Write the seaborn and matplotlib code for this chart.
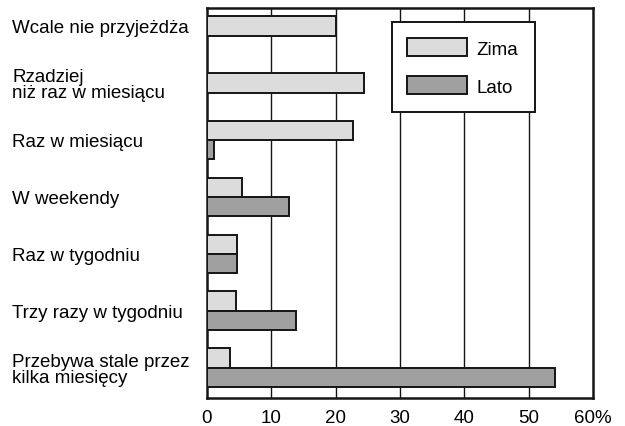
import pandas as pd
import seaborn as sns
import matplotlib.pyplot as plt

categories = [
    "Wcale nie przyjeżdża",
    "Rzadziej\nniż raz w miesiącu",
    "Raz w miesiącu",
    "W weekendy",
    "Raz w tygodniu",
    "Trzy razy w tygodniu",
    "Przebywa stale przez\nkilka miesięcy",
]
zima = [20.0, 24.4, 22.7, 5.5, 4.7, 4.5, 3.6]
lato = [0.0, 0.0, 1.1, 12.8, 4.7, 13.9, 54.1]
seasons = ["Zima", "Lato"]
x_ticks = [0, 10, 20, 30, 40, 50, 60]
x_labels = ["0", "10", "20", "30", "40", "50", "60%"]

df = pd.DataFrame({
    "kategoria": categories * 2,
    "sezon": ["Zima"] * len(categories) + ["Lato"] * len(categories),
    "procent": zima + lato,
})

sns.set_style("white")
plt.rcParams["font.family"] = ["Liberation Sans", "DejaVu Sans"]
plt.rcParams["text.color"] = "black"
plt.rcParams["xtick.color"] = "black"
plt.rcParams["ytick.color"] = "black"

fig = plt.figure(figsize=(6.25, 4.27), dpi=100)
ax = fig.add_axes([0.331, 0.066, 0.618, 0.913])

sns.barplot(data=df, y="kategoria", x="procent", hue="sezon", hue_order=seasons,
            orient="h", palette={"Zima": "#dcdcdc", "Lato": "#a0a0a0"},
            width=0.68, edgecolor="#151515", linewidth=1.4, errorbar=None,
            ax=ax, zorder=3)

# where there is no summer bar, the winter bar sits in the middle of the row
zima_bars, lato_bars = ax.containers[0], ax.containers[1]
for i, val in enumerate(lato):
    if val == 0:
        zb = zima_bars[i]
        zb.set_y(i - zb.get_height() / 2)
        lato_bars[i].set_visible(False)

ax.set_xlim(0, 60)
ax.set_ylim(6.526, -0.316)
ax.set_xticks(x_ticks)
ax.set_xticklabels(x_labels, fontsize=13.5)
ax.tick_params(axis="x", length=0, pad=8, labelcolor="black")
ax.set_yticks(range(len(categories)))
ax.set_yticklabels(categories, fontsize=13.5, ha="left", linespacing=0.9)
ax.tick_params(axis="y", length=0, pad=140, labelcolor="black")
ax.set_xlabel("")
ax.set_ylabel("")

for v in x_ticks[1:-1]:
    ax.axvline(v, color="#151515", linewidth=1.0, zorder=1)

for s in ax.spines.values():
    s.set_visible(True)
    s.set_color("#151515")
    s.set_linewidth(1.8)

leg = ax.legend(loc="upper left", bbox_to_anchor=(0.478, 0.963), fontsize=13.5,
                frameon=True, fancybox=False, edgecolor="#151515",
                handlelength=3.2, handleheight=1.1, labelspacing=1.0,
                borderpad=0.85, handletextpad=0.5, borderaxespad=0)
leg.get_frame().set_linewidth(1.4)
leg.get_frame().set_alpha(1)
leg.set_zorder(5)
for t in leg.get_texts():
    t.set_color("black")

fig.savefig("out.png", dpi=100)
